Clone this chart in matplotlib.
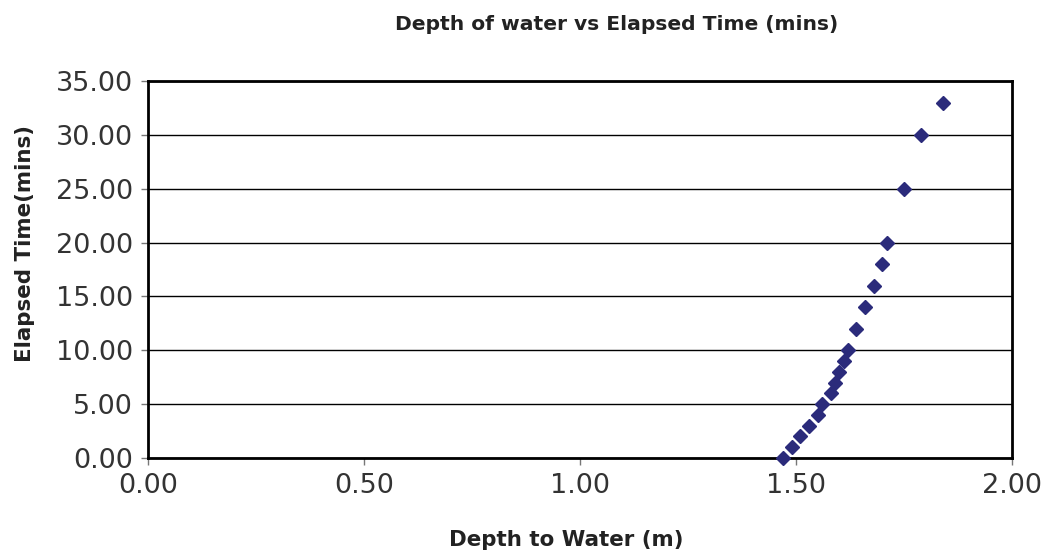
import matplotlib.pyplot as plt
from matplotlib.ticker import MultipleLocator, FormatStrFormatter

# depth to water (m) and elapsed time (mins)
depth = [1.47, 1.49, 1.51, 1.53, 1.55, 1.56, 1.58, 1.59, 1.60, 1.61,
         1.62, 1.64, 1.66, 1.68, 1.70, 1.71, 1.75, 1.79, 1.84]
elapsed = [0, 1, 2, 3, 4, 5, 6, 7, 8, 9,
           10, 12, 14, 16, 18, 20, 25, 30, 33]

fig = plt.figure(figsize=(10.44, 5.53), dpi=100)
ax = fig.add_axes([148 / 1044, 1 - 458 / 553, (1012 - 148) / 1044, (458 - 81) / 553])

ax.plot(depth, elapsed, linestyle='none', marker='D', markersize=7,
        color='#2b2b7b', clip_on=False, zorder=3)

ax.set_xlim(0, 2)
ax.set_ylim(0, 35)
ax.xaxis.set_major_locator(MultipleLocator(0.5))
ax.yaxis.set_major_locator(MultipleLocator(5))
ax.xaxis.set_major_formatter(FormatStrFormatter('%.2f'))
ax.yaxis.set_major_formatter(FormatStrFormatter('%.2f'))
ax.yaxis.grid(True, color='black', linewidth=1)
ax.set_axisbelow(True)

for s in ax.spines.values():
    s.set_linewidth(2)
    s.set_color('black')

ax.tick_params(direction='out', length=5, width=1, color='#777777',
               labelsize=19.5, labelcolor='#333333', pad=6)

fig.text(617 / 1044, 1 - 25 / 553, 'Depth of water vs Elapsed Time (mins)',
         ha='center', va='center', fontsize=14.6, fontweight='bold', color='#222222')
fig.text(566 / 1044, 1 - 540 / 553, 'Depth to Water (m)',
         ha='center', va='center', fontsize=15.4, fontweight='bold', color='#222222')
fig.text(25 / 1044, 1 - 244 / 553, 'Elapsed Time(mins)', rotation=90,
         ha='center', va='center', fontsize=15.4, fontweight='bold', color='#222222')

fig.savefig('out.png', dpi=100)
